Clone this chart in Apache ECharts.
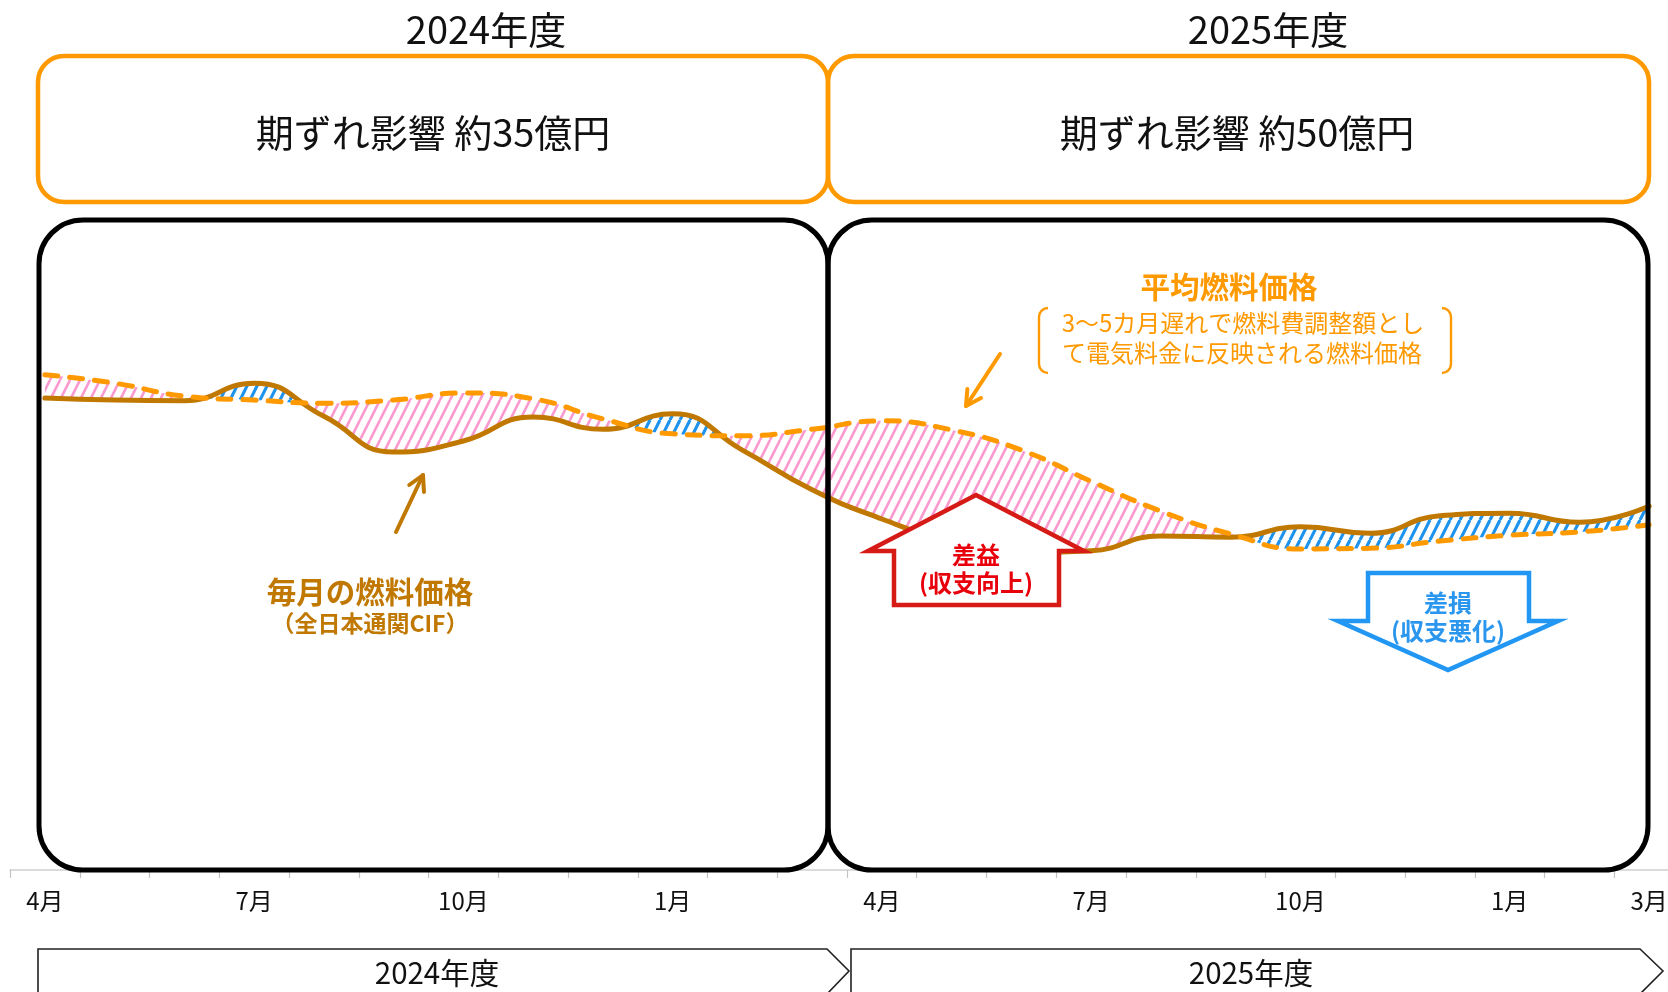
<!DOCTYPE html>
<html>
<head>
<meta charset="utf-8">
<script src="https://cdn.jsdelivr.net/npm/echarts@6/dist/echarts.min.js"></script>
<style>
html,body{margin:0;padding:0;background:#ffffff;}
#chart{width:1668px;height:992px;}
</style>
</head>
<body>
<div id="chart"></div>
<script>
// ---------------- DATA ----------------
const months = ['2024-04','2024-05','2024-06','2024-07','2024-08','2024-09','2024-10','2024-11','2024-12','2025-01','2025-02','2025-03',
                '2025-04','2025-05','2025-06','2025-07','2025-08','2025-09','2025-10','2025-11','2025-12','2026-01','2026-02','2026-03'];
// 毎月の燃料価格（全日本通関CIF） — relative scale
const monthlyPrice = [72.6,72.3,72.2,74.9,69.8,64.3,66.0,69.7,67.8,70.2,64.6,58.5,54.0,50.5,48.8,49.1,51.4,51.2,52.8,51.8,54.5,54.9,53.5,56.0];
// 平均燃料価格（3～5カ月遅れで反映）
const averagePrice = [76.2,74.9,72.9,72.3,71.8,72.3,73.4,72.5,69.4,67.1,66.8,67.8,69.1,67.7,64.6,59.8,55.2,51.7,49.4,49.5,50.6,51.5,52.0,53.1];
const tickLabelMonths = ['2024-04','2024-07','2024-10','2025-01','2025-04','2025-07','2025-10','2026-01','2026-03'];
const fiscalYears = ['2024年度','2025年度'];
const lagImpactTexts = ['期ずれ影響 約35億円','期ずれ影響 約50億円'];
const monthlyLabel = ['毎月の燃料価格','（全日本通関CIF）'];
const averageLabel = ['平均燃料価格','3～5カ月遅れで燃料費調整額とし','て電気料金に反映される燃料価格'];
const gainLabel = ['差益','(収支向上)'];
const lossLabel = ['差損','(収支悪化)'];

// ---------------- STYLE ----------------
const FONT = '"Noto Sans CJK JP", "Noto Sans", sans-serif';
const SMOOTH = 0.5;
const C_MONTHLY = '#C07800';
const C_AVG = '#FF9900';

function makeStripe(color, lw) {
  const c = document.createElement('canvas');
  const w = 10, h = 20;
  c.width = w; c.height = h;
  const ctx = c.getContext('2d');
  ctx.strokeStyle = color; ctx.lineWidth = lw;
  for (let k = -1; k <= 1; k++) {
    ctx.beginPath();
    ctx.moveTo(k * w, h);
    ctx.lineTo(k * w + w, 0);
    ctx.stroke();
  }
  return c;
}
const pinkPattern = { image: makeStripe('#F99BCF', 2.7), repeat: 'repeat' };
const bluePattern = { image: makeStripe('#1E93EE', 3.2), repeat: 'repeat' };

// replica of the line smoothing so the hatch matches the drawn curves
function bezierSegs(points, smooth) {
  const segs = [];
  const n = points.length;
  let prevX = points[0][0], prevY = points[0][1];
  let cpx0 = prevX, cpy0 = prevY;
  for (let i = 1; i < n; i++) {
    const x = points[i][0], y = points[i][1];
    let cpx1, cpy1, nextCpx0 = x, nextCpy0 = y;
    if (i + 1 >= n) { cpx1 = x; cpy1 = y; }
    else {
      const nextX = points[i + 1][0], nextY = points[i + 1][1];
      let vx = nextX - prevX, vy = nextY - prevY;
      const dx0 = x - prevX, dx1 = nextX - x, dy0 = y - prevY, dy1 = nextY - y;
      const lenPrev = Math.sqrt(dx0 * dx0 + dy0 * dy0);
      const lenNext = Math.sqrt(dx1 * dx1 + dy1 * dy1);
      const ratio = lenNext / (lenNext + lenPrev);
      nextCpx0 = x + vx * smooth * ratio;
      nextCpy0 = y + vy * smooth * ratio;
      nextCpx0 = Math.min(nextCpx0, Math.max(nextX, x));
      nextCpy0 = Math.min(nextCpy0, Math.max(nextY, y));
      nextCpx0 = Math.max(nextCpx0, Math.min(nextX, x));
      nextCpy0 = Math.max(nextCpy0, Math.min(nextY, y));
      vx = nextCpx0 - x; vy = nextCpy0 - y;
      cpx1 = x - vx * lenPrev / lenNext;
      cpy1 = y - vy * lenPrev / lenNext;
      cpx1 = Math.min(cpx1, Math.max(prevX, x));
      cpy1 = Math.min(cpy1, Math.max(prevY, y));
      cpx1 = Math.max(cpx1, Math.min(prevX, x));
      cpy1 = Math.max(cpy1, Math.min(prevY, y));
      vx = x - cpx1; vy = y - cpy1;
      nextCpx0 = x + vx * lenNext / lenPrev;
      nextCpy0 = y + vy * lenNext / lenPrev;
    }
    segs.push([prevX, prevY, cpx0, cpy0, cpx1, cpy1, x, y]);
    cpx0 = nextCpx0; cpy0 = nextCpy0;
    prevX = x; prevY = y;
  }
  return segs;
}
function sampleCurve(points) {
  const out = [];
  bezierSegs(points, SMOOTH).forEach((s, si) => {
    const N = 40;
    for (let j = (si === 0 ? 0 : 1); j <= N; j++) {
      const t = j / N, u = 1 - t;
      const a = u * u * u, b = 3 * u * u * t, c = 3 * u * t * t, d = t * t * t;
      out.push([a * s[0] + b * s[2] + c * s[4] + d * s[6], a * s[1] + b * s[3] + c * s[5] + d * s[7]]);
    }
  });
  return out;
}
function interpY(poly, x) {
  let lo = 0, hi = poly.length - 1;
  if (x <= poly[0][0]) return poly[0][1];
  if (x >= poly[hi][0]) return poly[hi][1];
  while (hi - lo > 1) {
    const m = (lo + hi) >> 1;
    if (poly[m][0] <= x) lo = m; else hi = m;
  }
  const p = poly[lo], q = poly[hi];
  const t = (q[0] - p[0]) === 0 ? 0 : (x - p[0]) / (q[0] - p[0]);
  return p[1] + t * (q[1] - p[1]);
}
function renderHatch(params, api) {
  const ptsS = monthlyPrice.map((v, i) => api.coord([i, v]));
  const ptsD = averagePrice.map((v, i) => api.coord([i, v]));
  const polyS = sampleCurve(ptsS), polyD = sampleCurve(ptsD);
  const x0 = Math.max(ptsS[0][0], ptsD[0][0]);
  const x1 = Math.min(ptsS[ptsS.length - 1][0], ptsD[ptsD.length - 1][0]);
  const xs = [];
  for (let x = x0; x < x1; x += 1) xs.push(x);
  xs.push(x1);
  const yS = xs.map(x => interpY(polyS, x));
  const yD = xs.map(x => interpY(polyD, x));
  const children = [];
  let run = null;
  function flush() {
    if (run && run.top.length > 1) {
      children.push({
        type: 'polygon',
        shape: { points: run.top.concat(run.bot.slice().reverse()) },
        style: { fill: run.sign > 0 ? pinkPattern : bluePattern, stroke: null }
      });
    }
  }
  for (let i = 0; i < xs.length; i++) {
    const sign = yD[i] <= yS[i] ? 1 : -1;
    if (!run) { run = { sign, top: [[xs[i], yD[i]]], bot: [[xs[i], yS[i]]] }; continue; }
    if (sign === run.sign) { run.top.push([xs[i], yD[i]]); run.bot.push([xs[i], yS[i]]); continue; }
    const d0 = yD[i - 1] - yS[i - 1], d1 = yD[i] - yS[i];
    const t = d0 / (d0 - d1);
    const xc = xs[i - 1] + t * (xs[i] - xs[i - 1]);
    const yc = yD[i - 1] + t * (yD[i] - yD[i - 1]);
    run.top.push([xc, yc]); run.bot.push([xc, yc]);
    flush();
    run = { sign, top: [[xc, yc], [xs[i], yD[i]]], bot: [[xc, yc], [xs[i], yS[i]]] };
  }
  flush();
  return { type: 'group', children };
}

// ---------------- GRAPHICS ----------------
function txt(x, y, text, size, color, weight) {
  return { type: 'text', x, y, z: 120, silent: true,
    style: { text, fontSize: size, fontFamily: FONT, fontWeight: weight || 'normal', fill: color,
             align: 'center', verticalAlign: 'middle' } };
}
function pointer(x0, y0, x1, y1, color) {
  const ang = Math.atan2(y1 - y0, x1 - x0);
  const L = 17, a = 0.5;
  const p1 = [x1 - L * Math.cos(ang - a), y1 - L * Math.sin(ang - a)];
  const p2 = [x1 - L * Math.cos(ang + a), y1 - L * Math.sin(ang + a)];
  return [
    { type: 'line', z: 110, silent: true, shape: { x1: x0, y1: y0, x2: x1, y2: y1 },
      style: { stroke: color, lineWidth: 4, lineCap: 'round' } },
    { type: 'polyline', z: 110, silent: true, shape: { points: [p1, [x1, y1], p2] },
      style: { stroke: color, lineWidth: 4, lineCap: 'round', lineJoin: 'round', fill: null } }
  ];
}
function bracketArcs(side) {
  const col = C_AVG, lw = 2.4, r = 9;
  const top = 308, bot = 373;
  if (side === 'left') {
    const xv = 1039;
    return [
      { type: 'arc', z: 110, silent: true, shape: { cx: xv + r, cy: top + r, r, startAngle: Math.PI, endAngle: Math.PI * 1.5, clockwise: true }, style: { stroke: col, lineWidth: lw, fill: null } },
      { type: 'line', z: 110, silent: true, shape: { x1: xv, y1: top + r, x2: xv, y2: bot - r }, style: { stroke: col, lineWidth: lw } },
      { type: 'arc', z: 110, silent: true, shape: { cx: xv + r, cy: bot - r, r, startAngle: Math.PI * 0.5, endAngle: Math.PI, clockwise: true }, style: { stroke: col, lineWidth: lw, fill: null } }
    ];
  }
  const xv = 1451;
  return [
    { type: 'arc', z: 110, silent: true, shape: { cx: xv - r, cy: top + r, r, startAngle: Math.PI * 1.5, endAngle: Math.PI * 2, clockwise: true }, style: { stroke: col, lineWidth: lw, fill: null } },
    { type: 'line', z: 110, silent: true, shape: { x1: xv, y1: top + r, x2: xv, y2: bot - r }, style: { stroke: col, lineWidth: lw } },
    { type: 'arc', z: 110, silent: true, shape: { cx: xv - r, cy: bot - r, r, startAngle: 0, endAngle: Math.PI * 0.5, clockwise: true }, style: { stroke: col, lineWidth: lw, fill: null } }
  ];
}

const graphics = [
  // fiscal-year titles
  txt(486, 30, fiscalYears[0], 38, '#111'),
  txt(1268, 30, fiscalYears[1], 38, '#111'),
  // orange boxes
  { type: 'rect', z: 100, silent: true, shape: { x: 38, y: 56, width: 790, height: 146, r: 26 }, style: { fill: null, stroke: '#FF9900', lineWidth: 4.5 } },
  { type: 'rect', z: 100, silent: true, shape: { x: 828, y: 56, width: 821, height: 146, r: 26 }, style: { fill: null, stroke: '#FF9900', lineWidth: 4.5 } },
  txt(433, 133, lagImpactTexts[0], 38, '#111'),
  txt(1237, 133, lagImpactTexts[1], 38, '#111'),
  // black boxes
  { type: 'rect', z: 100, silent: true, shape: { x: 39, y: 220, width: 789, height: 650, r: 44 }, style: { fill: null, stroke: '#000', lineWidth: 5 } },
  { type: 'rect', z: 100, silent: true, shape: { x: 828, y: 220, width: 820, height: 650, r: 44 }, style: { fill: null, stroke: '#000', lineWidth: 5 } },
  // bottom chevrons
  { type: 'polygon', z: 100, silent: true, shape: { points: [[38, 949], [827, 949], [849, 971], [827, 994], [38, 994]] }, style: { fill: '#fff', stroke: '#222', lineWidth: 1.6 } },
  { type: 'polygon', z: 100, silent: true, shape: { points: [[851, 949], [1640, 949], [1663, 971], [1640, 994], [851, 994]] }, style: { fill: '#fff', stroke: '#222', lineWidth: 1.6 } },
  txt(437, 973, fiscalYears[0], 29.5, '#111'),
  txt(1251, 973, fiscalYears[1], 29.5, '#111'),
  // gain arrow
  { type: 'polygon', z: 105, silent: true, shape: { points: [[976, 495], [1084, 551], [1059, 551], [1059, 605], [894, 605], [894, 551], [868, 551]] },
    style: { fill: '#fff', stroke: '#D61A16', lineWidth: 4.5, lineJoin: 'miter' } },
  txt(976, 555, gainLabel[0], 24, '#E8000B', 'bold'),
  txt(976, 583, gainLabel[1], 24, '#E8000B', 'bold'),
  // loss arrow
  { type: 'polygon', z: 105, silent: true, shape: { points: [[1368, 573], [1529, 573], [1529, 621], [1558, 621], [1448, 670], [1338, 621], [1368, 621]] },
    style: { fill: '#fff', stroke: '#2196F3', lineWidth: 4.5, lineJoin: 'miter' } },
  txt(1448, 603, lossLabel[0], 24, '#2A96EE', 'bold'),
  txt(1448, 631, lossLabel[1], 24, '#2A96EE', 'bold'),
  // labels
  txt(370, 592, monthlyLabel[0], 29.5, C_MONTHLY, 'bold'),
  txt(370, 623, monthlyLabel[1], 23, C_MONTHLY, 'bold'),
  txt(1229, 287, averageLabel[0], 29.5, C_AVG, 'bold'),
  txt(1243, 323, averageLabel[1], 24, C_AVG),
  txt(1242, 353, averageLabel[2], 24, C_AVG)
].concat(pointer(396, 532, 423, 475, C_MONTHLY))
 .concat(pointer(1000, 354, 966, 406, C_AVG))
 .concat(bracketArcs('left'))
 .concat(bracketArcs('right'));

// ---------------- CHART ----------------
const chart = echarts.init(document.getElementById('chart'), null, { renderer: 'canvas' });
chart.setOption({
  animation: false,
  backgroundColor: '#ffffff',
  grid: { left: 10, top: 220, width: 1674, height: 650, containLabel: false, outerBoundsMode: 'none' },
  xAxis: {
    type: 'category',
    data: months,
    boundaryGap: true,
    axisLine: { show: true, lineStyle: { color: '#D0D0D0', width: 1.5 } },
    axisTick: { show: true, interval: 0, length: 8, lineStyle: { color: '#C4C4C4', width: 1.2 } },
    axisLabel: {
      show: true,
      interval: (idx, value) => tickLabelMonths.indexOf(value) >= 0,
      formatter: v => parseInt(v.split('-')[1], 10) + '月',
      margin: 19,
      fontSize: 24,
      fontFamily: FONT,
      color: '#111'
    },
    splitLine: { show: false }
  },
  yAxis: { type: 'value', min: 0, max: 100, show: false, splitLine: { show: false } },
  series: [
    { type: 'custom', name: 'hatch', coordinateSystem: 'cartesian2d', renderItem: renderHatch,
      data: [[0, 0]], z: 1, silent: true, clip: false },
    { type: 'line', name: '毎月の燃料価格', data: monthlyPrice, smooth: SMOOTH, symbol: 'none', z: 3,
      lineStyle: { color: C_MONTHLY, width: 5, cap: 'round' } },
    { type: 'line', name: '平均燃料価格', data: averagePrice, smooth: SMOOTH, symbol: 'none', z: 4,
      lineStyle: { color: C_AVG, width: 5, type: [13, 12], cap: 'round' } }
  ],
  graphic: { elements: graphics }
});
</script>
</body>
</html>
